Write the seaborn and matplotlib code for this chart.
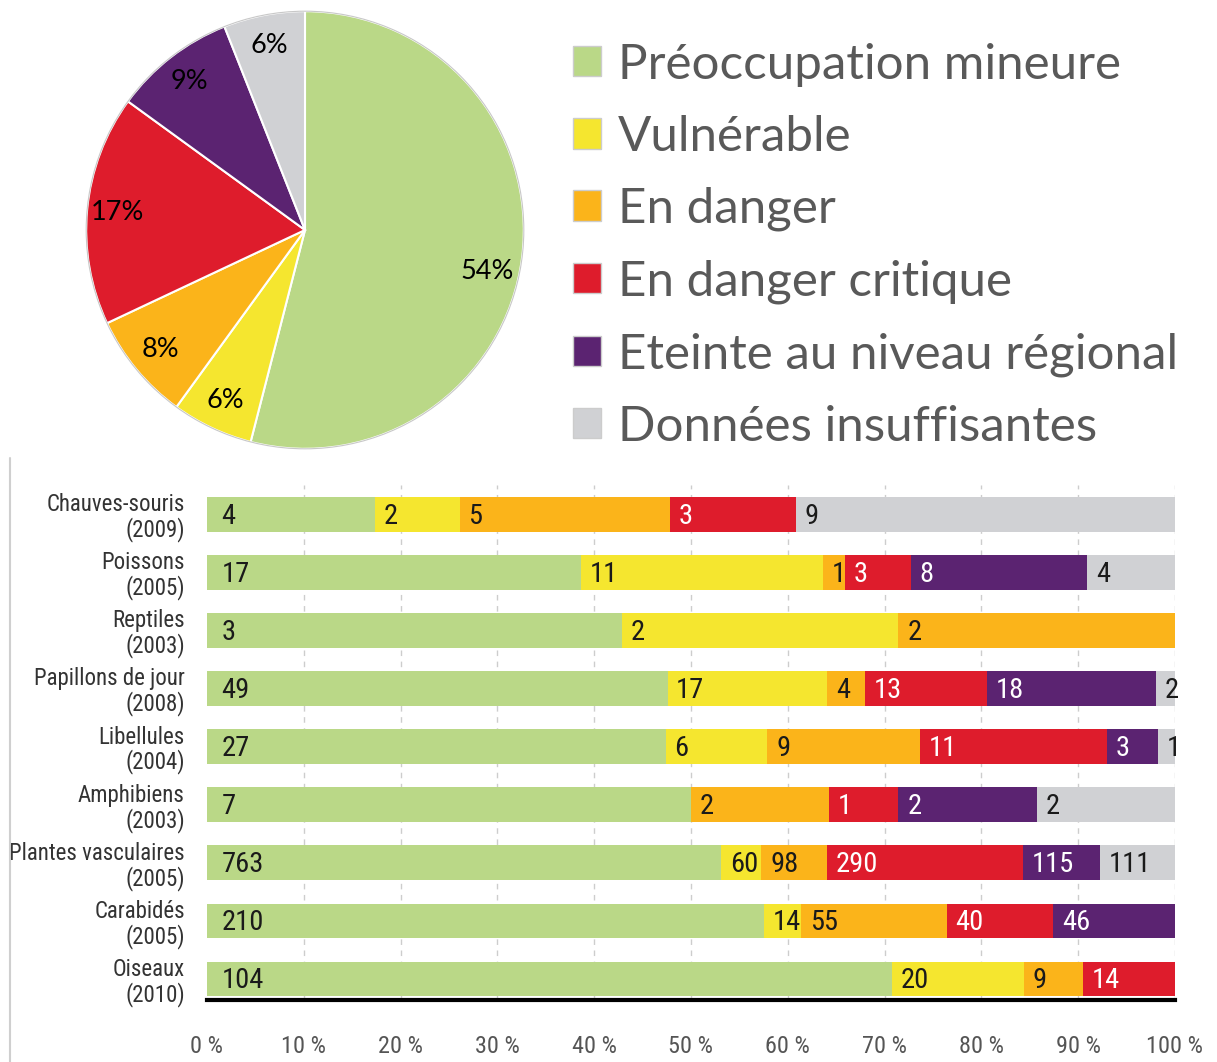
import matplotlib
matplotlib.use('Agg')
import matplotlib.pyplot as plt
from matplotlib.patches import Patch
from matplotlib.lines import Line2D
import seaborn as sns
import numpy as np

# pie chart: share of each status
statuses = ['Préoccupation mineure', 'Vulnérable', 'En danger',
            'En danger critique', 'Eteinte au niveau régional',
            'Données insuffisantes']
pie_share = [54, 6, 8, 17, 9, 6]
colors = ['#bad887', '#f5e62f', '#fbb41a', '#de1c2c', '#5b2371', '#d0d1d4']

# stacked bars: number of species per status
species = ['Chauves-souris\n(2009)', 'Poissons\n(2005)', 'Reptiles\n(2003)',
           'Papillons de jour\n(2008)', 'Libellules\n(2004)', 'Amphibiens\n(2003)',
           'Plantes vasculaires\n(2005)', 'Carabidés\n(2005)', 'Oiseaux\n(2010)']
lc = [4, 17, 3, 49, 27, 7, 763, 210, 104]
vu = [2, 11, 2, 17, 6, 0, 60, 14, 20]
en = [5, 1, 2, 4, 9, 2, 98, 55, 9]
cr = [3, 3, 0, 13, 11, 1, 290, 40, 14]
re = [0, 8, 0, 18, 3, 2, 115, 46, 0]
dd = [9, 4, 0, 2, 1, 2, 111, 0, 0]
tick_labels = ['0 %', '10 %', '20 %', '30 %', '40 %', '50 %',
               '60 %', '70 %', '80 %', '90 %', '100 %']

sns.set_style('white')
narrow = ['Roboto Condensed', 'Liberation Sans Narrow', 'Roboto', 'DejaVu Sans']
plt.rcParams['font.family'] = ['Lato', 'DejaVu Sans']

W, H = 1217, 1062
fig = plt.figure(figsize=(W / 100, H / 100), dpi=100)

# ---- pie ----
cx, cy, r = 305, 230, 221
ax_pie = fig.add_axes([(cx - r) / W, 1 - (cy + r) / H, 2 * r / W, 2 * r / H])
wedges, texts, autotexts = ax_pie.pie(
    pie_share, colors=colors, startangle=90, counterclock=False,
    autopct=lambda p: f'{p:.0f}%', pctdistance=0.86,
    wedgeprops=dict(edgecolor='white', linewidth=1.5),
    textprops=dict(fontsize=19.5, color='black'))
# the big slice label sits a bit lower in the original
x0, y0 = autotexts[0].get_position()
autotexts[0].set_position((x0 - 0.02, y0 - 0.08))
ax_pie.add_patch(plt.Circle((0, 0), 1.0, fill=False, ec='#c8c8c8', lw=0.8))
ax_pie.set_xlim(-1.01, 1.01)
ax_pie.set_ylim(-1.01, 1.01)
ax_pie.set_aspect('equal')
ax_pie.axis('off')

handles = [Patch(facecolor=c, edgecolor='#cccccc', linewidth=1) for c in colors]
fig.legend(handles, statuses, loc='upper left', bbox_to_anchor=(553 / W, 1 - 23 / H),
           frameon=False, fontsize=35.5, labelcolor='#595959',
           handlelength=0.57, handleheight=0.57, handletextpad=0.35,
           labelspacing=0.57, borderaxespad=0)

# ---- stacked bars ----
ax = fig.add_axes([207 / W, 1 - 1000 / H, 968 / W, 515 / H])
counts = np.array([lc, vu, en, cr, re, dd], dtype=float)
pct = counts / counts.sum(axis=0) * 100
cum = np.cumsum(pct, axis=0)

for k in range(len(statuses) - 1, -1, -1):
    sns.barplot(x=cum[k], y=species, color=colors[k], saturation=1,
                width=0.6, orient='h', linewidth=0, ax=ax, zorder=2)

for i in range(len(species)):
    for k in range(len(statuses)):
        n = int(counts[k, i])
        if n == 0:
            continue
        start = cum[k, i] - pct[k, i]
        pad = 1.5 if k == 0 else 0.9
        tc = 'white' if k in (3, 4) else '#1a1a1a'
        ax.text(start + pad, i + 0.03, str(n), ha='left', va='center',
                fontsize=20.5, color=tc, family=narrow, zorder=3)

ax.set_xlim(0, 100)
ax.set_ylim(8.362, -0.508)
ax.set_xticks(np.arange(0, 101, 10))
ax.set_xticklabels(tick_labels, family=narrow, fontsize=17.5, color='#555555')
ax.set_yticks(range(len(species)))
ax.set_yticklabels(species, family=narrow, fontsize=16.5, color='#333333',
                   ha='right', multialignment='right', linespacing=1.05)
ax.tick_params(axis='x', direction='out', length=7, width=1.5, color='black', pad=18)
ax.tick_params(axis='y', length=0, pad=16)
ax.set_xlabel('')
ax.set_ylabel('')
for x in range(10, 101, 10):
    ax.axvline(x, color='#cdcdcd', lw=1, ls=(0, (4, 4)), zorder=0)
sns.despine(ax=ax, left=True, top=True, right=True)
ax.spines['bottom'].set_linewidth(3)
ax.spines['bottom'].set_color('black')

# thin frame line on the left of the bar panel
fig.add_artist(Line2D([10 / W, 10 / W], [0, 1 - 458 / H], color='#cfcfcf', lw=1.5))

fig.savefig('out.png', dpi=100, facecolor='white')
